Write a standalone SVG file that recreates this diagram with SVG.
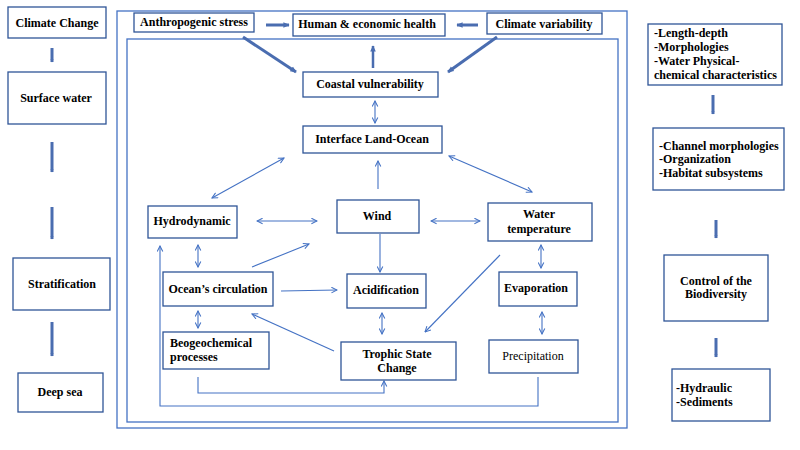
<svg xmlns="http://www.w3.org/2000/svg" width="800" height="450" viewBox="0 0 800 450">
<defs>
<style>
.box{fill:#fff;stroke:#2F5597;stroke-width:1.3}
.frame{fill:none;stroke:#4472C4;stroke-width:1.3}
.t{font-family:"Liberation Serif","Times New Roman",serif;font-size:12px;font-weight:bold;fill:#000;text-anchor:middle}
.tl{text-anchor:start}
.n{font-weight:normal}
.thin{fill:none;stroke:#4472C4;stroke-width:1.1}
.thick{fill:none;stroke:#4A6DB0;stroke-width:3}
.col{fill:none;stroke:#4A6DB0;stroke-width:3}
</style>
<marker id="ah" viewBox="0 0 10 10" refX="9" refY="5" markerWidth="7" markerHeight="7" markerUnits="userSpaceOnUse" orient="auto-start-reverse">
<path d="M1,1 L9,5 L1,9" fill="none" stroke="#4472C4" stroke-width="1.5"/>
</marker>
<marker id="th" viewBox="0 0 10 10" refX="8" refY="5" markerWidth="7" markerHeight="7" markerUnits="userSpaceOnUse" orient="auto">
<path d="M0,1 L9,5 L0,9 Z" fill="#4A6DB0"/>
</marker>
<marker id="tc" viewBox="0 0 10 10" refX="8" refY="5" markerWidth="4" markerHeight="4" markerUnits="userSpaceOnUse" orient="auto">
<path d="M0,1 L9,5 L0,9 Z" fill="#4A6DB0"/>
</marker>
</defs>
<rect class="frame" x="117" y="11" width="510" height="417"/>
<rect class="frame" x="127" y="39" width="491" height="383"/>
<g id="connectors">
<line class="col" x1="52" y1="48" x2="52" y2="62" marker-end="url(#tc)"/>
<line class="col" x1="52" y1="142" x2="52" y2="172" marker-end="url(#tc)"/>
<line class="col" x1="52" y1="207" x2="52" y2="239" marker-end="url(#tc)"/>
<line class="col" x1="52" y1="322" x2="52" y2="356" marker-end="url(#tc)"/>
<line class="col" x1="713" y1="95" x2="713" y2="114" marker-end="url(#tc)"/>
<line class="col" x1="716" y1="220" x2="716" y2="238" marker-end="url(#tc)"/>
<line class="col" x1="716" y1="338" x2="716" y2="357" marker-end="url(#tc)"/>
<line class="thick" x1="266" y1="25" x2="289" y2="25" marker-end="url(#th)"/>
<line class="thick" x1="478" y1="25" x2="457" y2="25" marker-end="url(#th)"/>
<line class="thick" x1="243" y1="37" x2="296" y2="72" marker-end="url(#th)"/>
<line class="thick" x1="373" y1="68" x2="373" y2="46" marker-end="url(#th)" style="stroke-width:2.5"/>
<line class="thick" x1="497" y1="37" x2="448" y2="72" marker-end="url(#th)"/>
<line class="thin" x1="375" y1="101" x2="375" y2="123" marker-start="url(#ah)" marker-end="url(#ah)"/>
<line class="thin" x1="284" y1="158" x2="212" y2="198" marker-start="url(#ah)" marker-end="url(#ah)"/>
<line class="thin" x1="378" y1="189" x2="378" y2="161" marker-end="url(#ah)"/>
<line class="thin" x1="449" y1="156" x2="532" y2="192" marker-start="url(#ah)" marker-end="url(#ah)"/>
<line class="thin" x1="257" y1="221" x2="317" y2="221" marker-start="url(#ah)" marker-end="url(#ah)"/>
<line class="thin" x1="431" y1="221" x2="480" y2="221" marker-start="url(#ah)" marker-end="url(#ah)"/>
<polyline class="thin" points="538,377 538,406 160,406 160,246" marker-end="url(#ah)"/>
<line class="thin" x1="198" y1="245" x2="198" y2="267" marker-start="url(#ah)" marker-end="url(#ah)"/>
<line class="thin" x1="252" y1="267" x2="309" y2="244" marker-end="url(#ah)"/>
<line class="thin" x1="380" y1="234" x2="380" y2="272" marker-end="url(#ah)"/>
<line class="thin" x1="541" y1="245" x2="541" y2="268" marker-start="url(#ah)" marker-end="url(#ah)"/>
<line class="thin" x1="500" y1="255" x2="425" y2="332" marker-end="url(#ah)"/>
<line class="thin" x1="281" y1="291" x2="337" y2="290" marker-end="url(#ah)"/>
<line class="thin" x1="198" y1="311" x2="198" y2="328" marker-start="url(#ah)" marker-end="url(#ah)"/>
<line class="thin" x1="382" y1="313" x2="382" y2="334" marker-start="url(#ah)" marker-end="url(#ah)"/>
<line class="thin" x1="542" y1="312" x2="542" y2="334" marker-start="url(#ah)" marker-end="url(#ah)"/>
<line class="thin" x1="334" y1="351" x2="252" y2="314" marker-end="url(#ah)"/>
<polyline class="thin" points="198,377 198,393 384,393 384,381" marker-end="url(#ah)"/>
</g>
<g id="climate-change"><rect class="box" x="8" y="7" width="98" height="31"/><text class="t" x="57" y="27">Climate Change</text></g>
<g id="surface-water"><rect class="box" x="8" y="72" width="98" height="52"/><text class="t" x="56" y="102">Surface water</text></g>
<g id="stratification"><rect class="box" x="13" y="258" width="97" height="52"/><text class="t" x="62" y="288">Stratification</text></g>
<g id="deep-sea"><rect class="box" x="18" y="373" width="85" height="39"/><text class="t" x="60" y="396">Deep sea</text></g>
<g id="anthropogenic-stress"><rect class="box" x="134" y="13" width="120" height="19"/><text class="t" x="194" y="26">Anthropogenic stress</text></g>
<g id="human-economic-health"><rect class="box" x="293" y="14" width="152" height="22"/><text class="t" x="367" y="28">Human &amp; economic health</text></g>
<g id="climate-variability"><rect class="box" x="487" y="13" width="115" height="21"/><text class="t" x="544" y="28">Climate variability</text></g>
<g id="coastal-vulnerability"><rect class="box" x="303" y="72" width="135" height="25"/><text class="t" x="370" y="88">Coastal vulnerability</text></g>
<g id="interface-land-ocean"><rect class="box" x="303" y="126" width="139" height="27"/><text class="t" x="372" y="143">Interface Land-Ocean</text></g>
<g id="hydrodynamic"><rect class="box" x="148" y="206" width="89" height="32"/><text class="t" x="192" y="225">Hydrodynamic</text></g>
<g id="wind"><rect class="box" x="337" y="200" width="82" height="33"/><text class="t" x="377" y="220">Wind</text></g>
<g id="water-temperature"><rect class="box" x="488" y="203" width="104" height="38"/><text class="t" x="539" y="218">Water</text><text class="t" x="539" y="233">temperature</text></g>
<g id="oceans-circulation"><rect class="box" x="163" y="272" width="110" height="34"/><text class="t" x="218" y="293">Ocean’s circulation</text></g>
<g id="acidification"><rect class="box" x="347" y="274" width="79" height="34"/><text class="t" x="386" y="294">Acidification</text></g>
<g id="evaporation"><rect class="box" x="499" y="272" width="78" height="34"/><text class="t" x="536" y="292">Evaporation</text></g>
<g id="beogeochemical-processes"><rect class="box" x="163" y="332" width="106" height="37"/><text class="t tl" x="170" y="347">Beogeochemical</text><text class="t tl" x="170" y="361">processes</text></g>
<g id="trophic-state-change"><rect class="box" x="341" y="342" width="115" height="38"/><text class="t" x="397" y="358">Trophic State</text><text class="t" x="397" y="372">Change</text></g>
<g id="precipitation"><rect class="box" x="489" y="340" width="89" height="33"/><text class="t n" x="533" y="360">Precipitation</text></g>
<g id="length-depth"><rect class="box" x="648" y="24" width="134" height="61"/><text class="t tl" x="654" y="37">-Length-depth</text><text class="t tl" x="654" y="51">-Morphologies</text><text class="t tl" x="654" y="65">-Water Physical-</text><text class="t tl" x="654" y="79">chemical characteristics</text></g>
<g id="channel-morphologies"><rect class="box" x="653" y="128" width="131" height="62"/><text class="t tl" x="659" y="150">-Channel morphologies</text><text class="t tl" x="659" y="163">-Organization</text><text class="t tl" x="659" y="177">-Habitat subsystems</text></g>
<g id="control-biodiversity"><rect class="box" x="664" y="255" width="104" height="66"/><text class="t" x="716" y="285">Control of the</text><text class="t" x="716" y="298">Biodiversity</text></g>
<g id="hydraulic-sediments"><rect class="box" x="672" y="369" width="98" height="52"/><text class="t tl" x="676" y="392">-Hydraulic</text><text class="t tl" x="676" y="406">-Sediments</text></g>
</svg>
